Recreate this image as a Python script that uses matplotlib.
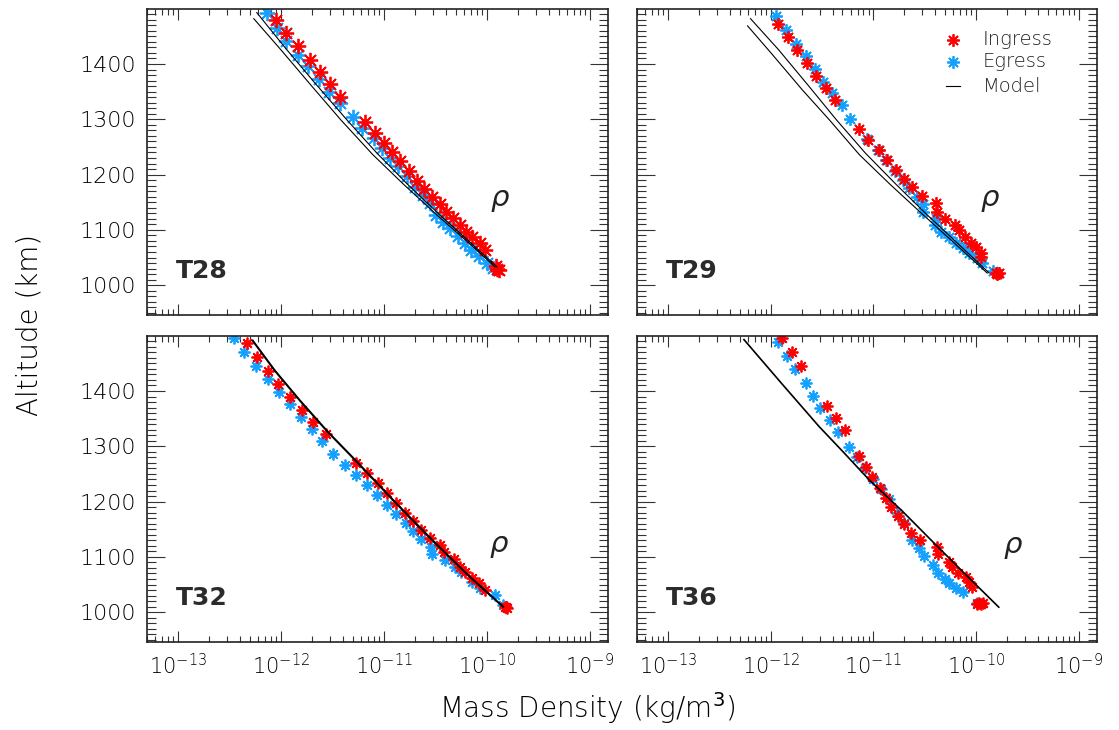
import numpy as np
import matplotlib
matplotlib.use("Agg")
import matplotlib.pyplot as plt
from matplotlib.ticker import (FixedLocator, LogLocator, MultipleLocator,
                               NullFormatter, LogFormatterSciNotation)

plt.rcParams['font.family'] = ['DejaVu Sans']
plt.rcParams['mathtext.fontset'] = 'dejavusans'

# ---- data: log10 mass density (kg/m^3) and altitude (km) ----
# T28
t28_ing_lr = [-12.05, -11.95, -11.83, -11.72, -11.62, -11.52, -11.43, -11.18, -11.09, -11.00,
              -10.92, -10.84, -10.76, -10.68, -10.61, -10.53, -10.46, -10.40, -10.33, -10.26,
              -10.20, -10.14, -10.07, -10.02, -9.91, -9.90, -9.88]
t28_ing_alt = [1480, 1456, 1432, 1408, 1385, 1364, 1341, 1296, 1276, 1258,
               1240, 1224, 1206, 1189, 1174, 1160, 1147, 1133, 1121, 1109,
               1097, 1087, 1076, 1064, 1034, 1030, 1028]
t28_egr_lr = [-12.14, -12.04, -11.95, -11.83, -11.74, -11.63, -11.53, -11.43, -11.30, -11.21,
              -11.10, -11.02, -10.94, -10.86, -10.78, -10.70, -10.62, -10.55, -10.49, -10.43,
              -10.36, -10.28, -10.21, -10.15, -10.08, -10.00, -9.94]
t28_egr_alt = [1492, 1465, 1441, 1417, 1396, 1372, 1350, 1329, 1305, 1284,
               1266, 1248, 1230, 1215, 1197, 1178, 1163, 1148, 1127, 1115,
               1103, 1088, 1076, 1064, 1052, 1040, 1031]
t28_mod1_lr = [-12.235, -11.944, -11.672, -11.360, -11.069, -10.768, -10.457, -10.136, -9.903]
t28_mod1_alt = [1493, 1426, 1366, 1299, 1239, 1182, 1127, 1073, 1033]
t28_mod2_lr = [-12.264, -12.002, -11.710, -11.419, -11.108, -10.807, -10.486, -10.155, -9.922]
t28_mod2_alt = [1482, 1426, 1362, 1299, 1236, 1182, 1127, 1073, 1033]

# T29
t29_ing_lr = [-11.93, -11.83, -11.74, -11.65, -11.56, -11.46, -11.37, -11.14, -11.05, -10.95,
              -10.87, -10.78, -10.70, -10.62, -10.53, -10.39, -10.38, -10.30, -10.21, -10.17,
              -10.11, -10.05, -10.00, -9.95, -9.95, -9.81, -9.80, -9.78]
t29_ing_alt = [1473, 1449, 1425, 1402, 1379, 1357, 1334, 1282, 1263, 1245,
               1226, 1209, 1192, 1177, 1162, 1148, 1133, 1120, 1109, 1099,
               1087, 1077, 1069, 1058, 1051, 1022, 1020, 1022]
t29_egr_lr = [-11.95, -11.85, -11.75, -11.66, -11.57, -11.49, -11.40, -11.31, -11.23, -11.06,
              -10.96, -10.88, -10.79, -10.71, -10.65, -10.58, -10.52, -10.52, -10.39, -10.40,
              -10.34, -10.26, -10.20, -10.13, -10.07, -9.99, -9.94, -9.84]
t29_egr_alt = [1486, 1461, 1437, 1414, 1391, 1367, 1347, 1325, 1300, 1265,
               1245, 1226, 1207, 1191, 1176, 1160, 1147, 1133, 1121, 1109,
               1097, 1087, 1076, 1067, 1058, 1049, 1040, 1025]
t29_mod1_lr = [-12.196, -11.924, -11.642, -11.360, -11.079, -10.778, -10.476, -10.165, -9.874]
t29_mod1_alt = [1482, 1426, 1363, 1299, 1239, 1182, 1127, 1073, 1022]
t29_mod2_lr = [-12.225, -11.983, -11.691, -11.429, -11.137, -10.836, -10.515, -10.194, -9.893]
t29_mod2_alt = [1469, 1417, 1353, 1299, 1236, 1182, 1127, 1073, 1022]

# T32
t32_ing_lr = [-12.33, -12.23, -12.13, -12.03, -11.91, -11.80, -11.69, -11.56, -11.27, -11.16,
              -11.06, -10.97, -10.88, -10.80, -10.72, -10.64, -10.55, -10.46, -10.42, -10.32,
              -10.26, -10.21, -10.14, -10.08, -10.02, -9.81, -9.80, -9.82]
t32_ing_alt = [1486, 1461, 1436, 1413, 1389, 1366, 1344, 1323, 1270, 1251,
               1233, 1215, 1198, 1180, 1165, 1149, 1135, 1121, 1108, 1096,
               1081, 1072, 1061, 1052, 1040, 1010, 1007, 1009]
t32_egr_lr = [-12.46, -12.36, -12.24, -12.13, -12.02, -11.91, -11.81, -11.70, -11.60, -11.49,
              -11.38, -11.27, -11.16, -11.07, -10.97, -10.88, -10.79, -10.72, -10.64, -10.54,
              -10.53, -10.41, -10.31, -10.25, -10.14, -10.07, -9.92, -9.84]
t32_egr_alt = [1496, 1470, 1446, 1422, 1398, 1376, 1353, 1332, 1310, 1286,
               1267, 1248, 1230, 1211, 1194, 1177, 1162, 1147, 1132, 1118,
               1106, 1094, 1082, 1072, 1055, 1043, 1031, 1013]
t32_mod_lr = [-12.274, -12.060, -11.817, -11.545, -11.263, -10.913, -10.534, -10.184, -9.844]
t32_mod_alt = [1491, 1437, 1383, 1326, 1272, 1203, 1131, 1067, 1010]

# T36
t36_ing_lr = [-11.89, -11.79, -11.70, -11.45, -11.36, -11.28, -11.14, -11.07, -11.01, -10.94,
              -10.88, -10.83, -10.76, -10.70, -10.63, -10.55, -10.38, -10.37, -10.26, -10.24,
              -10.18, -10.10, -10.07, -10.04, -9.97, -9.95, -9.99, -9.93]
t36_ing_alt = [1495, 1470, 1445, 1373, 1351, 1329, 1283, 1263, 1244, 1225,
               1207, 1191, 1174, 1159, 1144, 1131, 1117, 1105, 1091, 1081,
               1070, 1063, 1055, 1046, 1016, 1014, 1015, 1017]
t36_egr_lr = [-11.93, -11.84, -11.76, -11.66, -11.59, -11.52, -11.42, -11.34, -11.24, -11.16,
              -11.08, -11.00, -10.93, -10.85, -10.77, -10.70, -10.62, -10.56, -10.51, -10.42,
              -10.37, -10.30, -10.26, -10.20, -10.13, -9.99]
t36_egr_alt = [1488, 1464, 1439, 1415, 1391, 1369, 1347, 1325, 1299, 1280,
               1260, 1241, 1223, 1205, 1179, 1161, 1131, 1116, 1102, 1085,
               1070, 1060, 1052, 1043, 1037, 1016]
t36_mod_lr = [-12.26, -11.895, -11.53, -11.285, -11.04, -10.72, -10.41, -10.097, -9.78]
t36_mod_alt = [1493, 1414, 1336, 1288, 1239, 1183, 1125, 1067, 1009]

flybys = ["T28", "T29", "T32", "T36"]
labels = ["Ingress", "Egress", "Model"]
x_decades = [1e-13, 1e-12, 1e-11, 1e-10, 1e-9]

RED = "#ff0000"
BLUE = "#14a0ff"
STAR = (8, 2, 0)

fig = plt.figure(figsize=(11.19, 7.30), dpi=100)

W, H = 1119.0, 730.0
boxes = {
    "T28": (147, 9, 608, 315),
    "T29": (637, 9, 1097, 315),
    "T32": (147, 336, 608, 642),
    "T36": (637, 336, 1097, 642),
}

panel_data = {
    "T28": (t28_ing_lr, t28_ing_alt, t28_egr_lr, t28_egr_alt,
            [(t28_mod1_lr, t28_mod1_alt, 0.8), (t28_mod2_lr, t28_mod2_alt, 0.8)], 11),
    "T29": (t29_ing_lr, t29_ing_alt, t29_egr_lr, t29_egr_alt,
            [(t29_mod1_lr, t29_mod1_alt, 0.8), (t29_mod2_lr, t29_mod2_alt, 0.8)], 9),
    "T32": (t32_ing_lr, t32_ing_alt, t32_egr_lr, t32_egr_alt,
            [(t32_mod_lr, t32_mod_alt, 1.5)], 8.5),
    "T36": (t36_ing_lr, t36_ing_alt, t36_egr_lr, t36_egr_alt,
            [(t36_mod_lr, t36_mod_alt, 1.2)], 8.5),
}

rho_pos = {"T28": (0.766, 0.382), "T29": (0.767, 0.382),
           "T32": (0.764, 0.320), "T36": (0.817, 0.317)}

axes = {}
for name in flybys:
    x0, y0, x1, y1 = boxes[name]
    ax = fig.add_axes([x0 / W, 1 - y1 / H, (x1 - x0) / W, (y1 - y0) / H])
    axes[name] = ax
    ing_lr, ing_alt, egr_lr, egr_alt, models, ms = panel_data[name]

    for mlr, malt, lw in models:
        ax.plot(10.0 ** np.asarray(mlr), malt, color="black", lw=lw, zorder=3)
    ax.plot(10.0 ** np.asarray(egr_lr), egr_alt, ls="none", marker=STAR, ms=ms,
            mec=BLUE, mew=1.3, zorder=2)
    ax.plot(10.0 ** np.asarray(ing_lr), ing_alt, ls="none", marker=STAR, ms=ms,
            mec=RED, mew=1.3, zorder=2)

    ax.set_xscale("log")
    ax.set_xlim(5e-14, 1.5e-9)
    ax.set_ylim(946, 1499.5)
    ax.xaxis.set_major_locator(FixedLocator(x_decades))
    ax.xaxis.set_minor_locator(LogLocator(base=10, subs=np.arange(2, 10), numticks=20))
    ax.xaxis.set_minor_formatter(NullFormatter())
    ax.xaxis.set_major_formatter(LogFormatterSciNotation())
    ax.yaxis.set_major_locator(MultipleLocator(100))
    ax.yaxis.set_minor_locator(MultipleLocator(10))

    ax.tick_params(which="both", direction="in", top=True, right=True,
                   color="#333333", width=0.8)
    ax.tick_params(axis="y", which="major", length=13, pad=8, labelsize=16)
    ax.tick_params(axis="y", which="minor", length=6.5)
    ax.tick_params(axis="x", which="major", length=8, pad=8, labelsize=15)
    ax.tick_params(axis="x", which="minor", length=4.5)
    for sp in ax.spines.values():
        sp.set_linewidth(1.2)
        sp.set_color("#222222")
    for lab in ax.get_xticklabels() + ax.get_yticklabels():
        lab.set_fontweight("light")

    if name in ("T28", "T29"):
        ax.tick_params(axis="x", labelbottom=False)
    if name in ("T29", "T36"):
        ax.tick_params(axis="y", labelleft=False)

    ax.text(0.062, 0.121, name, transform=ax.transAxes, fontsize=18,
            fontweight="bold", color="#2b2b2b", ha="left", va="baseline")
    rx, ry = rho_pos[name]
    ax.text(rx, ry, "ρ", transform=ax.transAxes, fontsize=21, style="italic",
            ha="center", va="center", color="#222222")

# legend in the T29 panel
lax = axes["T29"]
leg_y = [0.899, 0.827, 0.748]
lax.plot([0.687], [leg_y[0]], transform=lax.transAxes, ls="none", marker=STAR,
         ms=9, mec=RED, mew=1.3, clip_on=False)
lax.plot([0.687], [leg_y[1]], transform=lax.transAxes, ls="none", marker=STAR,
         ms=9, mec=BLUE, mew=1.3, clip_on=False)
lax.plot([0.672, 0.702], [leg_y[2], leg_y[2]], transform=lax.transAxes,
         color="black", lw=0.8)
for lbl, yy in zip(labels, leg_y):
    lax.text(0.752, yy, lbl, transform=lax.transAxes, fontsize=14,
             fontweight="light", ha="left", va="center", color="#222222")

fig.text(30 / W, 1 - 325 / H, "Altitude (km)", rotation=90, fontsize=20,
         fontweight="light", ha="center", va="center")
fig.text(587 / W, 1 - 708 / H, "Mass Density (kg/m$^3$)", fontsize=20,
         fontweight="light", ha="center", va="center")

fig.savefig("out.png", dpi=100)
